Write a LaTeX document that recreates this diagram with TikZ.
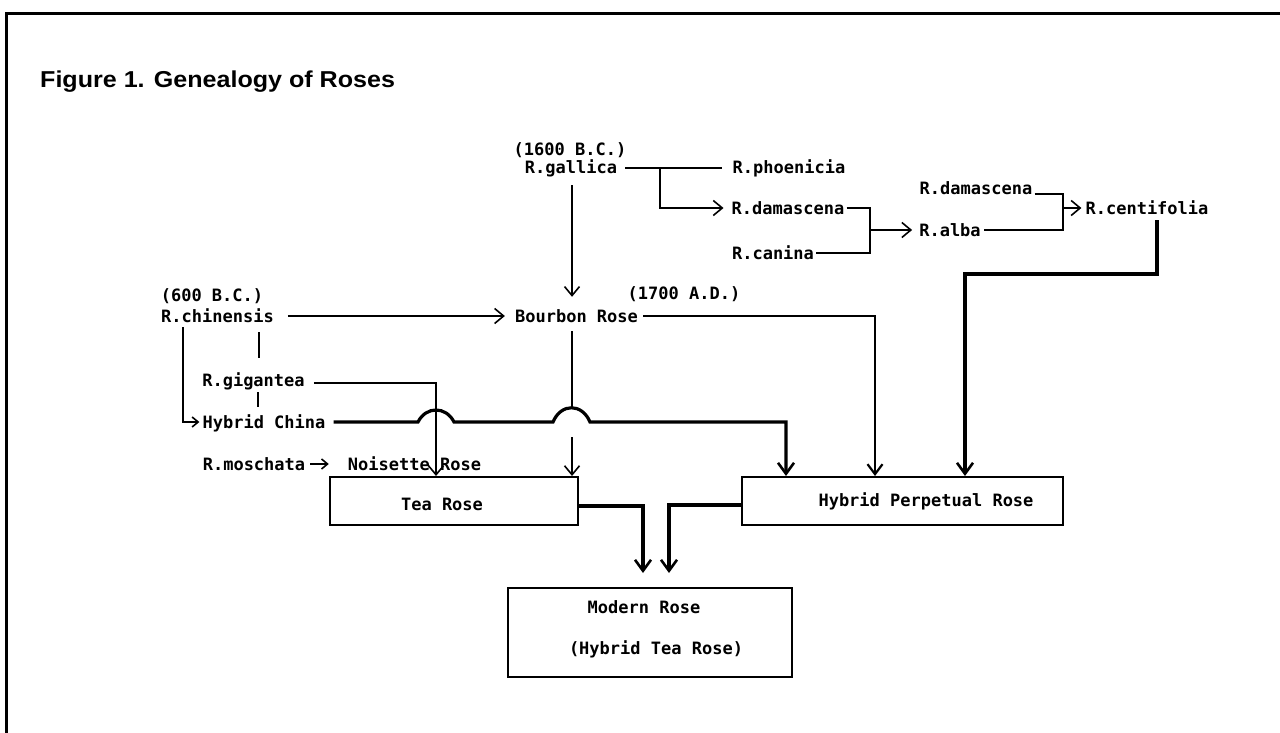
\documentclass[tikz,border=0pt]{standalone}
\usepackage{fontspec}
\setmainfont{Liberation Sans}
\newfontfamily\monof{DejaVu Sans Mono}
\usetikzlibrary{arrows.meta,calc}
\tikzset{
  lab/.style={font=\monof\bfseries\fontsize{17}{20}\selectfont, inner sep=0pt, text height=12pt, text depth=0pt},
  ln/.style={line width=1.5pt},
  marrow/.style={line width=2.4pt, -{Straight Barb[length=10pt,width=15pt,line width=2.2pt]}},
  arr/.style={line width=1.5pt, -{Straight Barb[length=9pt,width=15pt,line width=1.6pt]}},
  sarr/.style={line width=1.5pt, -{Straight Barb[length=6pt,width=10pt,line width=1.6pt]}},
  tarr/.style={line width=3.2pt, -{Straight Barb[length=11pt,width=16pt,line width=2.6pt]}},
  rbox/.style={draw, line width=2pt, inner sep=0pt},
}
\begin{document}
\begin{tikzpicture}[x=1pt,y=-1pt]
\useasboundingbox (0,0) rectangle (1280,733);
\fill[white] (0,0) rectangle (1280,733);
% frame
\draw[line width=3pt] (6,733) -- (6,14) -- (1280,14);
% title
\node[anchor=west, font=\bfseries\fontsize{23}{26}\selectfont, inner sep=0pt, text height=16pt, text depth=0pt] (title) at (40,80) {\scalebox{1.09}[1]{Figure 1. Genealogy of Roses}};

% labels
\node[lab] (t1600) at (570,150) {(1600 B.C.)};
\node[lab] (gallica) at (571,168) {R.gallica};
\node[lab] (phoenicia) at (789,168) {R.phoenicia};
\node[lab] (dam1) at (788,208) {R.damascena};
\node[lab] (canina) at (773,253) {R.canina};
\node[lab] (alba) at (950,230) {R.alba};
\node[lab] (dam2) at (976,188) {R.damascena};
\node[lab] (centifolia) at (1147,208) {R.centifolia};
\node[lab] (t600) at (212,295) {(600 B.C.)};
\node[lab] (chinensis) at (217.5,316) {R.chinensis};
\node[lab] (bourbon) at (576.5,316) {Bourbon Rose};
\node[lab] (t1700) at (684,293) {(1700 A.D.)};
\node[lab] (gigantea) at (253.5,380) {R.gigantea};
\node[lab] (hchina) at (264,422) {Hybrid China};
\node[lab] (moschata) at (254,464) {R.moschata};
\node[lab] (noisette) at (414.5,464) {Noisette Rose};

% boxes
\node[rbox, minimum width=248pt, minimum height=48pt] (tea) at (454,501) {};
\node[lab] (tealab) at (442,504) {Tea Rose};
\node[rbox, minimum width=321pt, minimum height=48pt] (hpr) at (902.5,501) {};
\node[lab] (hprlab) at (926,500) {Hybrid Perpetual Rose};
\node[rbox, minimum width=284pt, minimum height=89pt] (modern) at (650,632.5) {};
\node[lab] (modlab1) at (644,607) {Modern Rose};
\node[lab] (modlab2) at (656,648) {(Hybrid Tea Rose)};

% coordinates for bends
\coordinate (b1) at (660,168);
\coordinate (k1) at (870,208);
\coordinate (k3) at (1063,208);
\coordinate (c1) at (1157,274);
\coordinate (c2) at (965,274);
\coordinate (c3) at (875,316);
\coordinate (c4) at (183,422);
\coordinate (c5) at (436,383);
\coordinate (c6) at (786,422);
\coordinate (c7) at (572,408);
\coordinate (c8) at (572,437);
\coordinate (c9) at (643,506);
\coordinate (c10) at (669,505);

% gallica branches
\draw[ln] ([xshift=8pt]gallica.east) -- ([xshift=-11pt]phoenicia.west);
\draw[arr] (b1) |- ([xshift=-8pt]dam1.west);
% damascena + canina -> alba
\draw[ln] ([xshift=2pt]dam1.east) -- (dam1.east -| k1) -- (canina.east -| k1) -- ([xshift=2pt]canina.east);
\draw[arr] (alba.west -| k1) -- ([xshift=-7pt]alba.west);
% damascena + alba -> centifolia
\draw[ln] ([xshift=2pt]dam2.south east) -- (dam2.south east -| k3) -- (alba.east -| k3) -- ([xshift=3pt]alba.east);
\draw[arr] (centifolia.west -| k3) -- ([xshift=-4pt]centifolia.west);
% centifolia -> HPR
\draw[tarr] ($(centifolia.south -| c1)+(0,6)$) -- (c1) -- (c2) -- (c2 |- hpr.north);
% gallica -> bourbon
\draw[arr] ($(gallica.south -| c7)+(0,11)$) -- ($(c7 |- bourbon.north)+(0,-13)$);
% chinensis -> bourbon
\draw[arr] ([xshift=14pt]chinensis.east) -- ([xshift=-10pt]bourbon.west);
% bourbon -> HPR
\draw[marrow] ([xshift=5pt]bourbon.east) -- (c3) -- (c3 |- hpr.north);
% chinensis -> hybrid china
\draw[sarr] ($(chinensis.south -| c4)+(0,5)$) -- (c4) -- ([xshift=-3pt]hchina.west);
% chinensis -> gigantea, gigantea -> hybrid china
\draw[ln] ($(chinensis.south)+(41.5,10)$) -- ($(chinensis.south |- gigantea.north)+(41.5,-16)$);
\draw[ln] ($(gigantea.south)+(4.5,6)$) -- ($(gigantea.south |- hchina.north)+(4.5,-9)$);
% gigantea -> tea
\draw[arr] ($(gigantea.east)+(9,3)$) -- (c5) -- (c5 |- tea.north);
% hybrid china -> HPR with hops
\draw[tarr] ([xshift=8pt]hchina.east) -- (418,422) .. controls (426,406) and (446,406) .. (454,422)
  -- (553,422) .. controls (561,403) and (582,403) .. (590,422) -- (c6) -- (c6 |- hpr.north);
% bourbon -> tea
\draw[ln] ($(c7 |- bourbon.south)+(0,9)$) -- (c7);
\draw[arr] (c8) -- (c8 |- tea.north);
% moschata -> noisette
\draw[sarr] ([xshift=5pt]moschata.east) -- ([xshift=-19pt]noisette.west);
% tea, HPR -> modern
\draw[tarr, shorten >=14pt] (tea.east |- c9) -- (c9) -- (c9 |- modern.north);
\draw[tarr, shorten >=14pt] (hpr.west |- c10) -- (c10) -- (c10 |- modern.north);
\end{tikzpicture}
\end{document}
